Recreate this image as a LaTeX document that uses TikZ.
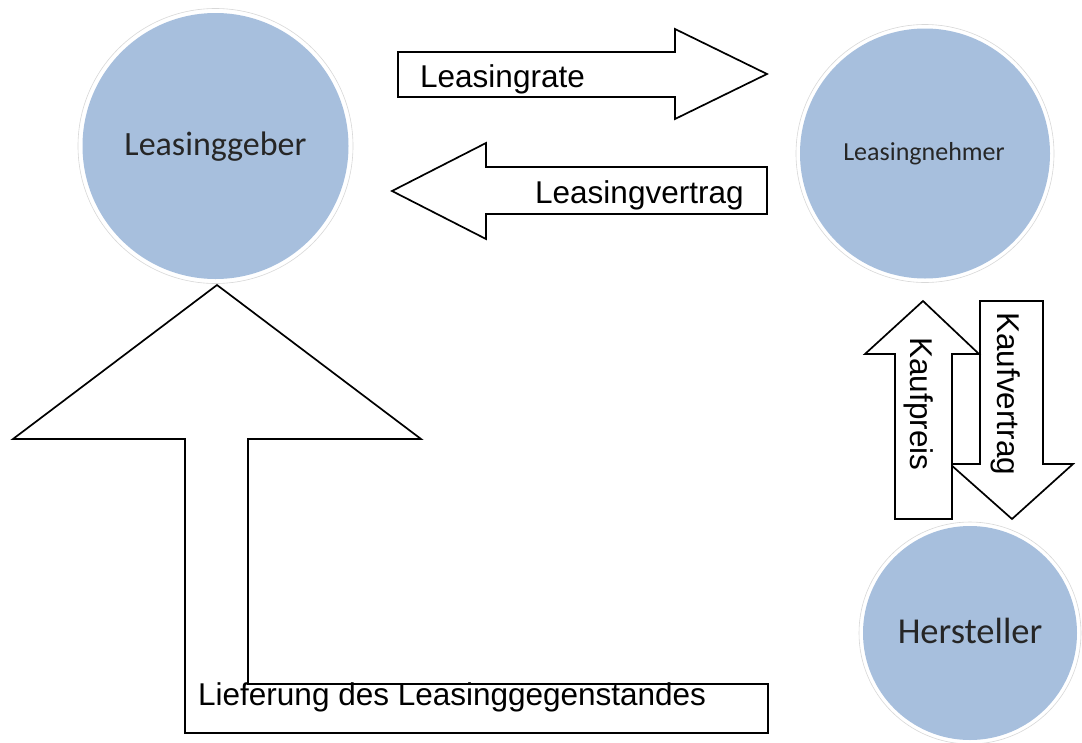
\documentclass[tikz,border=0pt]{standalone}
\usepackage{fontspec}
\setmainfont{Liberation Sans}
\newfontfamily\carlito{Carlito}
\definecolor{circfill}{HTML}{A7BFDD}
\definecolor{ringgray}{HTML}{D8D8D8}
\tikzset{
  blockarrow/.style={draw=black, fill=white, line width=1.7pt, line join=miter},
  circ/.style={circle, fill=circfill, inner sep=0pt},
  ring/.style={circle, draw=ringgray, line width=0.6pt, inner sep=0pt},
  arrowtext/.style={font=\fontsize{31.5}{36}\selectfont, inner sep=0pt, anchor=base west},
  circtext/.style={inner sep=0pt, anchor=base, text=black!85}
}
\begin{document}
\begin{tikzpicture}[x=1pt,y=-1pt]
\useasboundingbox (0,0) rectangle (1082,742);
\fill[white] (0,0) rectangle (1082,742);

% circles
\node[ring, minimum size=275pt] (geberring) at (215.5,146) {};
\node[circ, minimum size=266pt] (geber) at (215.5,146) {};
\node[circtext, font=\carlito\fontsize{34}{40}\selectfont] (gebertext) at (215.5,155) {Leasinggeber};

\node[ring, minimum size=258pt] (nehmerring) at (925,153.5) {};
\node[circ, minimum size=250pt] (nehmer) at (925,153.5) {};
\node[circtext, font=\carlito\fontsize{26}{30}\selectfont] (nehmertext) at (924,160) {Leasingnehmer};

\node[ring, minimum size=222pt] (herstring) at (970,633) {};
\node[circ, minimum size=214pt] (herst) at (970,633) {};
\node[circtext, font=\carlito\fontsize{36.5}{42}\selectfont] (hersttext) at (970,643) {Hersteller};

% Leasingrate
\draw[blockarrow] (398,52) -- (675,52) -- (675,29) -- (767,74) -- (675,119) -- (675,97) -- (398,97) -- cycle;
\node[arrowtext] (rate) at (420,87) {Leasingrate};

% Leasingvertrag
\draw[blockarrow] (392,191) -- (486,143) -- (486,167) -- (767,167) -- (767,214) -- (486,214) -- (486,239) -- cycle;
\node[arrowtext] (vertrag) at (535,203) {Leasingvertrag};

% Lieferung
\draw[blockarrow] (217,285) -- (421,439) -- (248,439) -- (248,684) -- (768,684) -- (768,733) -- (185,733) -- (185,439) -- (13,439) -- cycle;
\node[arrowtext] (lieferung) at (198,705) {Lieferung des Leasinggegenstandes};

% Kaufvertrag
\draw[blockarrow] (980,301) -- (1043,301) -- (1043,464) -- (1073,464) -- (1012,519) -- (950,464) -- (980,464) -- cycle;
\node[arrowtext, rotate=-90] (kaufvertrag) at (997,312) {Kaufvertrag};

% Kaufpreis
\draw[blockarrow] (923,301) -- (979,354) -- (952,354) -- (952,519) -- (895,519) -- (895,354) -- (865,354) -- cycle;
\node[arrowtext, rotate=-90] (kaufpreis) at (910,337) {Kaufpreis};
\end{tikzpicture}
\end{document}
